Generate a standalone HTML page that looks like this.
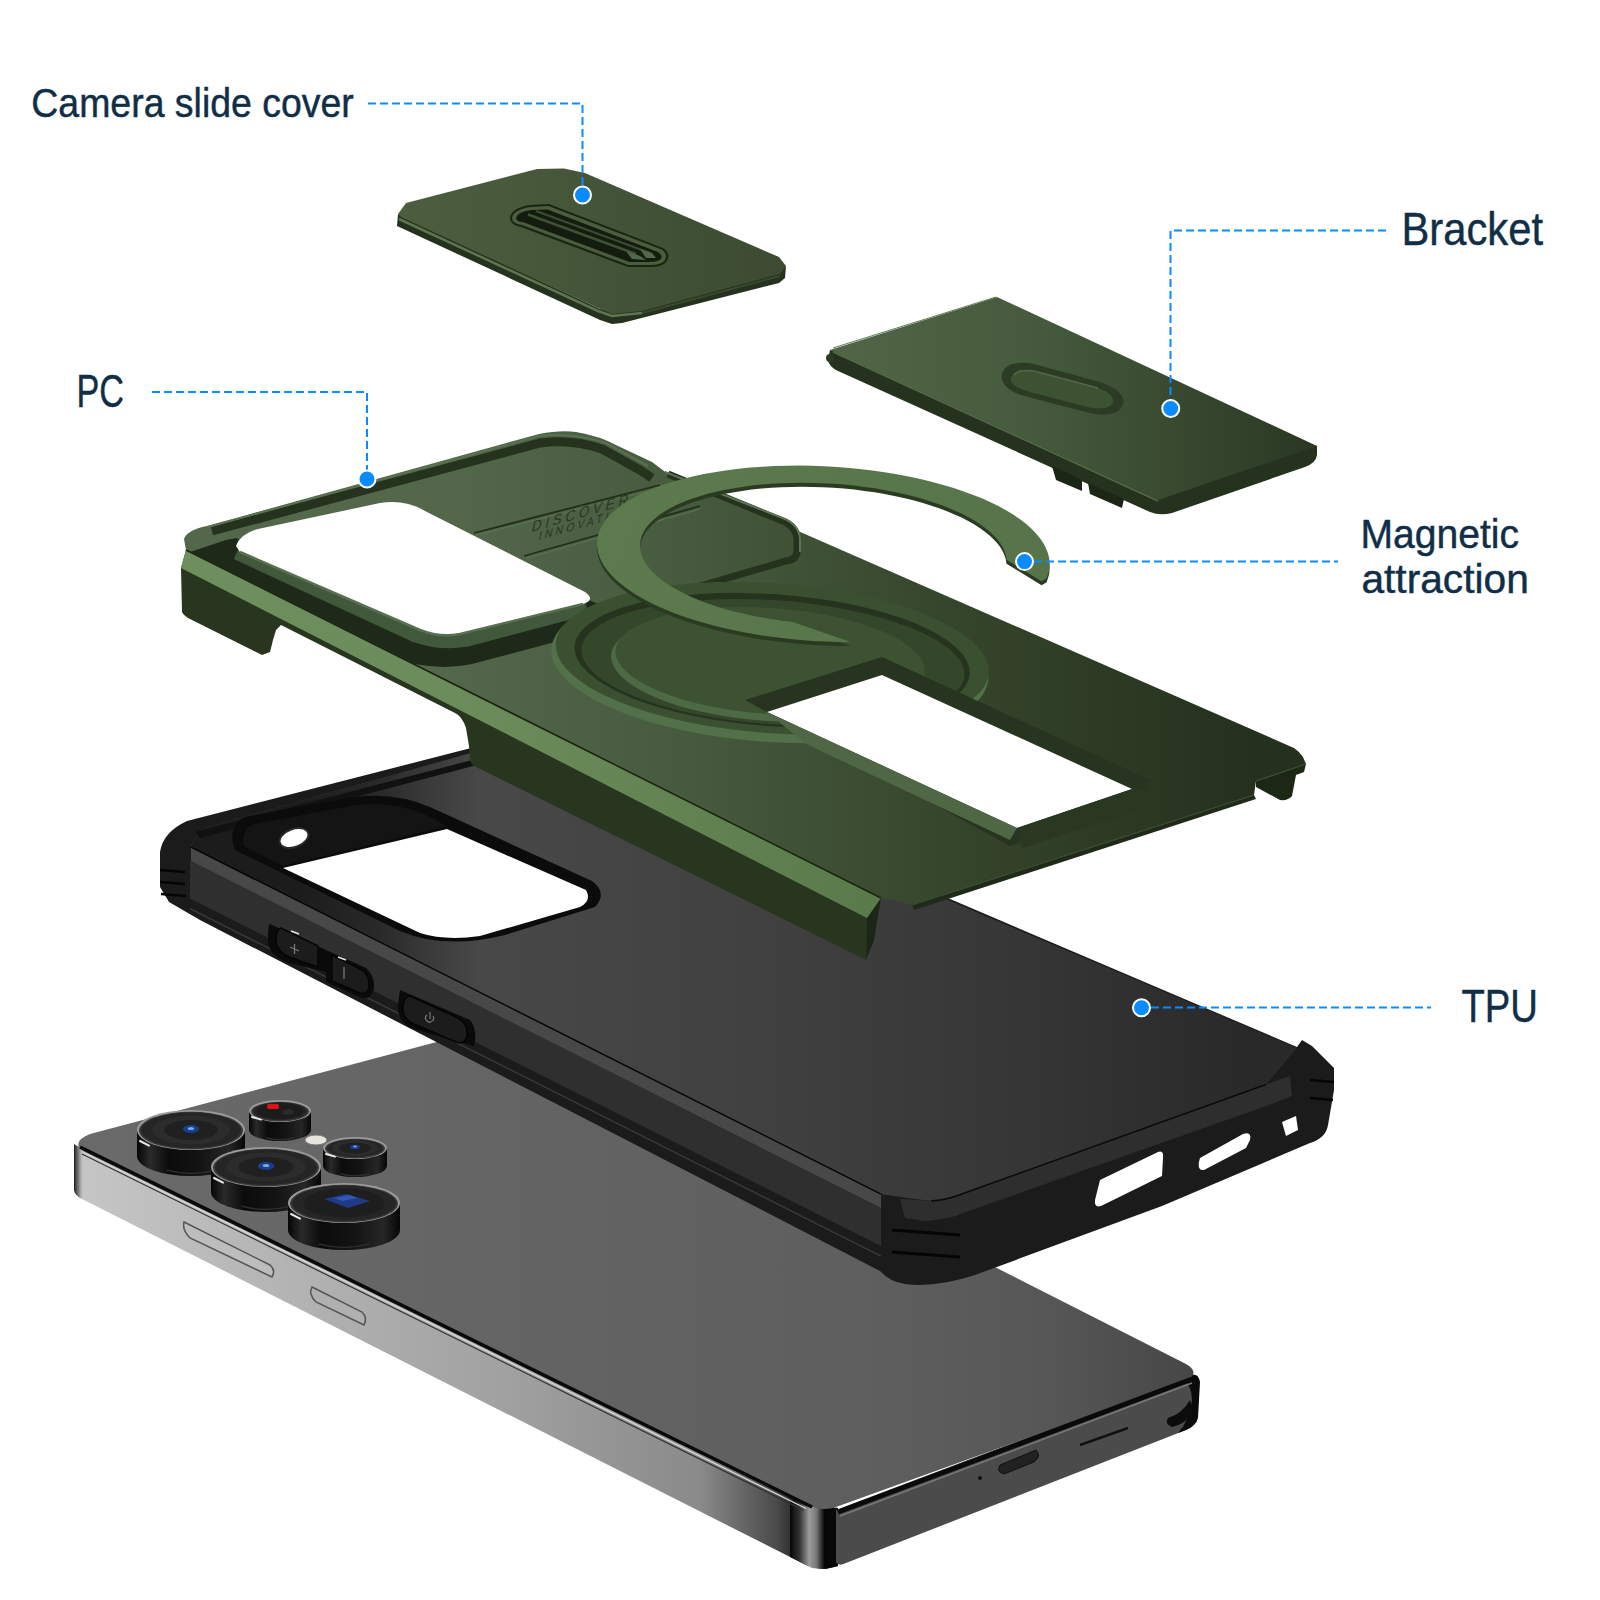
<!DOCTYPE html>
<html><head><meta charset="utf-8">
<style>
html,body{margin:0;padding:0;background:#fff;width:1600px;height:1600px;overflow:hidden}
svg{display:block}
text{font-family:"Liberation Sans",sans-serif;fill:#112e47}
</style></head>
<body>
<svg width="1600" height="1600" viewBox="0 0 1600 1600">
<defs>
 <linearGradient id="phTop" x1="80" y1="0" x2="1200" y2="0" gradientUnits="userSpaceOnUse">
  <stop offset="0" stop-color="#6a6a6a"/><stop offset="0.38" stop-color="#646464"/><stop offset="0.72" stop-color="#5e5e5e"/><stop offset="0.86" stop-color="#575757"/><stop offset="1" stop-color="#464646"/>
 </linearGradient>
 <linearGradient id="phFrame" x1="75" y1="0" x2="838" y2="0" gradientUnits="userSpaceOnUse">
  <stop offset="0" stop-color="#c6c6c6"/><stop offset="0.3" stop-color="#b2b2b2"/><stop offset="0.55" stop-color="#a2a2a2"/><stop offset="0.82" stop-color="#8a8a8a"/><stop offset="0.92" stop-color="#4a4a4a"/><stop offset="0.96" stop-color="#111"/><stop offset="1" stop-color="#111"/>
 </linearGradient>
 <linearGradient id="phCorner" x1="790" y1="0" x2="838" y2="0" gradientUnits="userSpaceOnUse">
  <stop offset="0" stop-color="#050505"/><stop offset="0.2" stop-color="#333"/><stop offset="0.4" stop-color="#9c9c9c"/><stop offset="0.55" stop-color="#777"/><stop offset="0.72" stop-color="#050505"/><stop offset="1" stop-color="#0a0a0a"/>
 </linearGradient>
 <linearGradient id="phShort" x1="822" y1="0" x2="1197" y2="0" gradientUnits="userSpaceOnUse">
  <stop offset="0" stop-color="#1c1c1c"/><stop offset="0.3" stop-color="#3a3a3a"/><stop offset="1" stop-color="#2a2a2a"/>
 </linearGradient>
 <linearGradient id="pcTop" x1="450" y1="0" x2="1250" y2="0" gradientUnits="userSpaceOnUse">
  <stop offset="0" stop-color="#53684a"/><stop offset="0.3" stop-color="#465a3d"/><stop offset="0.7" stop-color="#324128"/><stop offset="1" stop-color="#25311e"/>
 </linearGradient>
 <linearGradient id="pcStrip" x1="180" y1="0" x2="880" y2="0" gradientUnits="userSpaceOnUse">
  <stop offset="0" stop-color="#6f8e5e"/><stop offset="0.4" stop-color="#6d8c5b"/><stop offset="1" stop-color="#5b7a4b"/>
 </linearGradient>
 <linearGradient id="ringG" x1="595" y1="465" x2="1050" y2="640" gradientUnits="userSpaceOnUse">
  <stop offset="0" stop-color="#5d7b4e"/><stop offset="1" stop-color="#56734a"/>
 </linearGradient>
 <linearGradient id="slideTop" x1="420" y1="0" x2="780" y2="0" gradientUnits="userSpaceOnUse">
  <stop offset="0" stop-color="#4c5d3f"/><stop offset="1" stop-color="#3c4b31"/>
 </linearGradient>
 <linearGradient id="brTop" x1="850" y1="0" x2="1300" y2="0" gradientUnits="userSpaceOnUse">
  <stop offset="0" stop-color="#4f6546"/><stop offset="0.4" stop-color="#465b3d"/><stop offset="1" stop-color="#2c3a25"/>
 </linearGradient>
 <linearGradient id="lensCyl" x1="0" y1="0" x2="1" y2="0">
  <stop offset="0" stop-color="#050505"/><stop offset="0.12" stop-color="#2a2a2a"/><stop offset="0.3" stop-color="#0b0b0b"/><stop offset="0.6" stop-color="#141414"/><stop offset="0.85" stop-color="#262626"/><stop offset="1" stop-color="#060606"/>
 </linearGradient>
 <linearGradient id="phLeftEnd" x1="74" y1="0" x2="84" y2="0" gradientUnits="userSpaceOnUse">
  <stop offset="0" stop-color="#1a1a1a"/><stop offset="0.5" stop-color="#555" stop-opacity="0.6"/><stop offset="1" stop-color="#c6c6c6" stop-opacity="0"/>
 </linearGradient>
 <linearGradient id="tpuDark" x1="300" y1="0" x2="480" y2="0" gradientUnits="userSpaceOnUse">
  <stop offset="0" stop-color="#1c1c1c" stop-opacity="1"/><stop offset="0.45" stop-color="#222" stop-opacity="0.8"/><stop offset="1" stop-color="#2a2a2a" stop-opacity="0"/>
 </linearGradient>
 <linearGradient id="tpuTop" x1="480" y1="0" x2="1250" y2="0" gradientUnits="userSpaceOnUse">
  <stop offset="0" stop-color="#484848"/><stop offset="0.35" stop-color="#414141"/><stop offset="0.7" stop-color="#363636"/><stop offset="1" stop-color="#292929"/>
 </linearGradient>
</defs>

<!-- ================= PHONE ================= -->
<g id="phone">
 <!-- long side frame (silver) -->
 <path d="M74,1146 L74,1190 Q76,1197 84,1200 L800,1562 Q812,1569 826,1569 L838,1566 L838,1510 L79,1146 Z" fill="url(#phFrame)"/>
 <path d="M790,1500 L838,1508 L838,1566 Q826,1570 812,1568 L790,1557 Z" fill="url(#phCorner)"/>
 <path d="M74,1144 L74,1190 Q75,1196 82,1199 L84,1200 L84,1150 Z" fill="url(#phLeftEnd)"/>
 <!-- short side (black) -->
 <path d="M836,1510 L1190,1376 Q1198,1372 1199,1382 L1197,1418 Q1195,1426 1186,1430 L846,1563 Q838,1567 836,1562 Z" fill="#4b4b4b"/>
 <path d="M1190,1376 Q1198,1372 1200,1382 L1198,1418 Q1196,1426 1186,1430 L1178,1433 Q1190,1420 1192,1400 Q1192,1388 1185,1380 Z" fill="#0a0a0a"/>
 <path d="M1168,1418 Q1182,1414 1190,1400 L1193,1412 Q1186,1424 1172,1427 Q1164,1424 1168,1418 Z" fill="#0c0c0c"/>
 <!-- top face -->
 <path d="M90,1134 L512,1022 L1186,1364 Q1200,1372 1188,1380 L836,1507 Q822,1512 808,1505 L84,1152 Q70,1142 90,1134 Z" fill="url(#phTop)"/>
 <!-- edge line -->
 <path d="M80,1147 L812,1507" stroke="#0a0a0a" stroke-width="3.5" fill="none"/>
 <path d="M82,1151.5 L806,1508.5" stroke="#d8d8d8" stroke-width="1.3" fill="none"/>
 <path d="M82,1154 L804,1510.5" stroke="#333" stroke-width="1.2" fill="none"/>
 <path d="M838,1512 L1192,1379" stroke="#0a0a0a" stroke-width="5" fill="none"/>
 <path d="M840,1516 L1192,1383" stroke="#7a7a7a" stroke-width="1.5" fill="none"/>
 <!-- buttons -->
 <path d="M184,1222 L270,1265 Q276,1270 272,1277 L190,1238 Q182,1230 184,1222 Z" fill="#bdbdbd" stroke="#555" stroke-width="1.5"/>
 <path d="M312,1287 L362,1312 Q368,1318 364,1325 L316,1302 Q308,1294 312,1287 Z" fill="#b0b0b0" stroke="#555" stroke-width="1.5"/>
 <!-- ports -->
 <path d="M1000,1465 L1036,1450 Q1042,1456 1034,1462 L1004,1474 Q996,1472 1000,1465 Z" fill="#222" stroke="#111"/>
 <path d="M1080,1445 L1128,1428" stroke="#111" stroke-width="2.5"/>
 <circle cx="980" cy="1478" r="2" fill="#111"/>
 <!-- cameras -->
 <g id="cams">
  <path d="M137,1130 L137,1156 A54,20 0 0 0 245,1156 L245,1130 Z" fill="url(#lensCyl)"/>
  <ellipse cx="191" cy="1130" rx="54" ry="20" fill="#9a9a9a"/>
  <ellipse cx="191" cy="1130.6" rx="52" ry="18.8" fill="#3a3a3a"/>
  <ellipse cx="191" cy="1130.3" rx="50" ry="17.8" fill="#252525"/>
  <ellipse cx="191" cy="1130" rx="38.9" ry="14.4" fill="#2c2c2c"/>
  <ellipse cx="191" cy="1130" rx="27.0" ry="10.0" fill="#202020"/>
  <ellipse cx="191" cy="1129" rx="8.1" ry="4.0" fill="#1a3f8a"/>
  <ellipse cx="191" cy="1128.5" rx="3.2" ry="1.6" fill="#7aa6f0"/>
  <path d="M140,1141.0 L149,1145.6" stroke="#e8e8e8" stroke-width="2" stroke-linecap="round"/>
  <path d="M166.7,1170.0 Q191,1177.0 215.3,1170.0" stroke="#2c2c2c" stroke-width="1.5" fill="none"/>
  <path d="M249,1111 L249,1130 A31,11 0 0 0 311,1130 L311,1111 Z" fill="url(#lensCyl)"/>
  <ellipse cx="280" cy="1111" rx="31" ry="11" fill="#9a9a9a"/>
  <ellipse cx="280" cy="1111.6" rx="29" ry="9.8" fill="#3a3a3a"/>
  <ellipse cx="280" cy="1111.3" rx="27" ry="8.8" fill="#252525"/>
  <ellipse cx="280" cy="1111" rx="23.2" ry="8.2" fill="#1c1c1c"/>
  <rect x="267" y="1104" width="12" height="5" rx="2" fill="#e31010"/>
  <ellipse cx="288" cy="1112" rx="6" ry="3" fill="#2a2a2a"/>
  <path d="M252,1117.0 L261,1119.6" stroke="#e8e8e8" stroke-width="2" stroke-linecap="round"/>
  <path d="M266.1,1137.7 Q280,1142.0 293.9,1137.7" stroke="#2c2c2c" stroke-width="1.5" fill="none"/>
  <ellipse cx="316" cy="1140" rx="11" ry="5" fill="#e6e4dc" stroke="#777" stroke-width="1"/>
  <path d="M323,1148 L323,1166 A32,11 0 0 0 387,1166 L387,1148 Z" fill="url(#lensCyl)"/>
  <ellipse cx="355" cy="1148" rx="32" ry="11" fill="#9a9a9a"/>
  <ellipse cx="355" cy="1148.6" rx="30" ry="9.8" fill="#3a3a3a"/>
  <ellipse cx="355" cy="1148.3" rx="28" ry="8.8" fill="#252525"/>
  <ellipse cx="355" cy="1148" rx="23.0" ry="7.9" fill="#2c2c2c"/>
  <ellipse cx="355" cy="1148" rx="16.0" ry="5.5" fill="#202020"/>
  <ellipse cx="355" cy="1147" rx="4.8" ry="2.2" fill="#1a3f8a"/>
  <ellipse cx="355" cy="1146.5" rx="1.9" ry="0.9" fill="#7aa6f0"/>
  <path d="M326,1154.0 L335,1156.6" stroke="#e8e8e8" stroke-width="2" stroke-linecap="round"/>
  <path d="M340.6,1173.7 Q355,1178.0 369.4,1173.7" stroke="#2c2c2c" stroke-width="1.5" fill="none"/>
  <path d="M211,1167 L211,1192 A55,20 0 0 0 321,1192 L321,1167 Z" fill="url(#lensCyl)"/>
  <ellipse cx="266" cy="1167" rx="55" ry="20" fill="#9a9a9a"/>
  <ellipse cx="266" cy="1167.6" rx="53" ry="18.8" fill="#3a3a3a"/>
  <ellipse cx="266" cy="1167.3" rx="51" ry="17.8" fill="#252525"/>
  <ellipse cx="266" cy="1167" rx="39.6" ry="14.4" fill="#2c2c2c"/>
  <ellipse cx="266" cy="1167" rx="27.5" ry="10.0" fill="#202020"/>
  <ellipse cx="266" cy="1166" rx="8.2" ry="4.0" fill="#1a3f8a"/>
  <ellipse cx="266" cy="1165.5" rx="3.3" ry="1.6" fill="#7aa6f0"/>
  <path d="M214,1178.0 L223,1182.6" stroke="#e8e8e8" stroke-width="2" stroke-linecap="round"/>
  <path d="M241.2,1206.0 Q266,1213.0 290.8,1206.0" stroke="#2c2c2c" stroke-width="1.5" fill="none"/>
  <path d="M288,1203 L288,1230 A56,20 0 0 0 400,1230 L400,1203 Z" fill="url(#lensCyl)"/>
  <ellipse cx="344" cy="1203" rx="56" ry="20" fill="#9a9a9a"/>
  <ellipse cx="344" cy="1203.6" rx="54" ry="18.8" fill="#3a3a3a"/>
  <ellipse cx="344" cy="1203.3" rx="52" ry="17.8" fill="#252525"/>
  <ellipse cx="344" cy="1203" rx="40.3" ry="14.4" fill="#1e1e1e"/>
  <path d="M324,1199 L346,1194 L370,1201 L348,1208 Z" fill="#1f3a86"/>
  <path d="M334,1198 L350,1195 L358,1198 L342,1201 Z" fill="#3a5cc0" opacity="0.8"/>
  <path d="M291,1214.0 L300,1218.6" stroke="#e8e8e8" stroke-width="2" stroke-linecap="round"/>
  <path d="M318.8,1244.0 Q344,1251.0 369.2,1244.0" stroke="#2c2c2c" stroke-width="1.5" fill="none"/>
 </g>
</g>

<!-- ================= TPU ================= -->
<g id="tpu">
 <path d="M160,852 Q163,832 187,821 L549,728 L1297,1047 L1302,1040 L1312,1046 L1334,1068 L1334,1090 L1328,1125 Q1326,1138 1310,1143 L1162,1206 L975,1275 Q935,1288 905,1284 Q890,1282 880,1271 L200,920 L169,902 L160,887 Z" fill="#1b1b1b"/>
 <!-- long side face -->
 <path d="M190,860.6 L881,1208.1 L881,1246.1 L190,898.6 Z" fill="#2f2f2f"/>
 <path d="M190,908.6 L881,1256.1" stroke="#3a3a3a" stroke-width="1.5"/>
 <!-- top face -->
 <path d="M191,847.1 Q196,830 212,826 L549,731 L1297,1048 L1266,1084.5 L966,1192.5 Q948,1200 931,1201 Q905,1198 881,1194.1 Z" fill="url(#tpuTop)"/>
 <path d="M191,847.1 Q196,830 212,826 L549,731 L1297,1048 L1266,1084.5 L966,1192.5 Q948,1200 931,1201 Q905,1198 881,1194.1 Z" fill="url(#tpuDark)"/>
 <!-- top lip band long side -->
 <path d="M191,847.1 L881,1194.1 L881,1208.1 L191,861.1 Z" fill="#484848"/>
 <path d="M191,847.1 L881,1194.1" stroke="#050505" stroke-width="1.5"/>
 <!-- top lip band short side -->
 <path d="M931,1201 Q948,1200 966,1192.5 L1266,1084.5 L1290,1076 L1292,1096 L1272,1104 L966,1212 Q948,1220 925,1221 L905,1218 L900,1199 Z" fill="#2e2e2e"/>
 <path d="M931,1201 Q948,1200 966,1192.5 L1266,1084.5" stroke="#0a0a0a" stroke-width="1.5" fill="none"/>
 <!-- top edge inner rim (upper-left) -->
 <path d="M195,832 L549,740 L549,746 L200,838 Z" fill="#111"/>
 <!-- camera hole lip -->
 <path d="M235,850 Q226,828 245,817 L355,797 Q395,792 430,807 L592,881 Q608,893 595,907 L505,935 Q445,950 400,931 Z" fill="#0b0b0b"/>
 <path d="M244,846 Q240,830 254,824 L356,805 Q392,801 424,814 L447,826 L283,866 Z" fill="#141414"/>
 <path d="M283,868 L447,829 L586,890 Q592,901 580,907 L480,936 Q445,941 420,933 Z" fill="#fff"/>
 <ellipse cx="294" cy="838" rx="15" ry="9" fill="#fff" stroke="#2a2a2a" stroke-width="2" transform="rotate(-20 294 838)"/>
 <!-- corner bumper ridges -->
 <path d="M160,870 L185,872 M160,882 L185,884 M161,894 L186,896" stroke="#050505" stroke-width="2.5"/>
 <path d="M892,1230 L960,1235 M892,1252 L960,1257" stroke="#050505" stroke-width="3"/>
 <path d="M1310,1080 L1334,1082 M1310,1098 L1333,1100" stroke="#050505" stroke-width="2.5"/>
 <!-- buttons -->
 <path d="M270,924 L326,950 L326,972 L286,962 Q268,954 268,940 Q268,924 270,924 Z" fill="#0a0a0a"/>
 <path d="M281,928 L318,946 L318,967 L289,957 Q276,951 276,940 Q276,929 281,928 Z" fill="#1c1c1c" stroke="#050505" stroke-width="1.5"/>
 <path d="M290,947 L299,951 M294.5,944 L294.5,954" stroke="#777" stroke-width="1.3"/>
 <path d="M326,950 L366,968 Q375,976 374,988 Q372,1000 362,998 L326,982 Z" fill="#0a0a0a"/>
 <path d="M332,955 L362,970 Q370,976 369,986 Q368,995 360,993 L332,981 Z" fill="#1c1c1c" stroke="#050505" stroke-width="1.5"/>
 <path d="M344,967 L344,979" stroke="#777" stroke-width="1.3"/>
 <path d="M400,990 L470,1020 Q478,1030 474,1046 L410,1028 Q396,1018 398,1004 Z" fill="#0a0a0a"/>
 <path d="M410,996 L458,1018 Q468,1024 467,1034 Q466,1045 456,1042 L414,1024 Q402,1018 403,1007 Q404,996 410,996 Z" fill="#1c1c1c" stroke="#050505" stroke-width="1.5"/>
 <path d="M427,1015 A4,4 0 1 0 433,1016 M430,1012 L430,1019" stroke="#777" stroke-width="1.2" fill="none"/>
 <path d="M291,931 L299,934 M338,957 L346,960" stroke="#e0e0e0" stroke-width="1.8"/>
 <!-- short side holes -->
 <path d="M1100,1180 L1158,1152 Q1164,1150 1163,1158 L1162,1176 L1101,1206 Q1094,1208 1095,1200 Z" fill="#fff"/>
 <path d="M1200,1158 L1243,1134 Q1252,1131 1250,1140 L1246,1148 L1204,1170 Q1196,1171 1200,1158 Z" fill="#fff"/>
 <path d="M1282,1122 L1296,1116 L1298,1130 L1286,1136 Z" fill="#fff"/>
</g>

<!-- ================= PC (green) ================= -->
<g id="pc">
 <!-- side walls (dark) -->
 <path d="M181,568 L182,612 Q184,616 190,619 L262,655 L270,652 L273,640 L276,630 L281,625 L455,713 Q462,716 466,728 L469,746 L470,760 Q471,765 476,767 L866,960 L867,918 L881,898 L881,898 L186,550 Z" fill="#29361f"/>
 <path d="M867,918 L881,898 L874,940 L866,960 Z" fill="#1c2616"/>
 <!-- top face -->
 <path d="M186,550 L184,539 Q187,530 207,526 L539,434 Q560,430 576,432 Q600,436 618,446 L652,462 L668,474 L1294,748 Q1300,752 1303,757 L1306,764 L1256,781 L1254,795 L912,905 Q896,900 889,899 L881,898 Z" fill="url(#pcTop)"/>
 <!-- right tab darker -->
 <path d="M1256,781 L1306,764 L1304,772 L1296,775 L1292,796 Q1288,801 1280,800 L1256,787 Z" fill="#1d2716"/>
 <path d="M1254,795 L912,905 L914,910 L1256,799 Z" fill="#1f2a18"/>
 <path d="M1306,764 L1256,781 M1254,795 L912,905" stroke="#3b4b31" stroke-width="1.3" fill="none"/>
 <!-- strip (lit bevel) -->
 <path d="M186,550 L881,898 L867,918 L181,568 Z" fill="url(#pcStrip)"/>
 <path d="M186,550 L881,898" stroke="#1b2414" stroke-width="1.6" fill="none"/>
 <!-- camera island rim: outer lighter edge + dark inner channel -->
 <path d="M212,531 L540,443 Q572,439 602,449 L640,470 L652,478" stroke="#25321d" stroke-width="9" fill="none"/>
 <path d="M208,527 L539,436 Q572,432 606,443 L648,466" stroke="#5a7050" stroke-width="2" fill="none"/>
 <!-- rim right side (around DISCOVER plate) -->
 <path d="M668,474 L785,522 Q797,528 797,540 L797,552 Q796,560 786,561 L612,612" stroke="#25321d" stroke-width="7" fill="none"/>
 <path d="M665,472 L785,519 Q800,526 800,540 L800,552" stroke="#5c7452" stroke-width="2" fill="none"/>
 <!-- DISCOVER plate lines -->
 <path d="M474,533 L660,485 M524,556 L700,506" stroke="#222e1b" stroke-width="1.8" fill="none"/>
 <path d="M476,535.5 L660,488 M526,558.5 L700,509" stroke="#5d7453" stroke-width="1" fill="none"/>
 <g transform="translate(531,532) rotate(-16) skewX(-28)" font-family="Liberation Sans" stroke="none">
  <text x="0" y="0" font-size="14" textLength="100" style="fill:#2a3822">DISCOVER</text>
  <text x="10" y="10" font-size="11" textLength="95" style="fill:#2a3822">INNOVATION</text>
 </g>
 <!-- camera hole surround (dark lower-left wall) -->
 <path d="M226,540 L190,552 L415,664 Q445,670 472,664 L600,630 L604,606 L583,598 L465,628 L415,624 L236,538 Z" fill="#1f2919"/>
 <path d="M238,550 L415,632 Q440,641 465,637 L586,605" stroke="#41583a" stroke-width="20" fill="none" stroke-linejoin="round"/>
 <!-- camera hole -->
 <path d="M236,546 Q240,534 258,529 L380,503 Q405,499 425,511 L585,592 Q596,600 583,604 L460,634 Q440,638 420,630 L240,552 Z" fill="#fff"/>
 <path d="M240,552 L420,630 Q440,638 460,634 L583,604" stroke="#587050" stroke-width="2.5" fill="none"/>
 <!-- circle embossing -->
 <g transform="rotate(4 770 662)">
 <ellipse cx="770" cy="664" rx="219" ry="78" fill="#52704a"/>
 <ellipse cx="772" cy="658" rx="217" ry="75" fill="#3b5031"/>
 <ellipse cx="772" cy="660" rx="198" ry="66" fill="#26331e"/>
 <ellipse cx="773" cy="662" rx="192" ry="62" fill="#34472b"/>
 <ellipse cx="768" cy="666" rx="157" ry="55" fill="#4d6a44"/>
 <ellipse cx="770" cy="661" rx="155" ry="53" fill="#3c5233"/>
 </g>
 <!-- lower-right hole -->
 <path d="M745,700 L882,657 L1150,780 L1140,800 L1010,846 Z" fill="#27341f"/>
 <path d="M767,712 L882,675 L1132,789 L1017,828 Z" fill="#fff"/>
 <path d="M767,712 L1017,828 L1010,840 L806,744 Z" fill="#4f6745"/>
 <path d="M1017,828 L1132,789 L1150,790 L1145,808 L1022,848 Z" fill="#2a3822"/>
</g>

<!-- ================= Magnetic ring ================= -->
<g id="ring">
 <path d="M850.7,646.0 L838.2,645.9 L825.6,645.5 L813.1,644.9 L800.6,644.0 L788.2,642.8 L775.9,641.3 L763.7,639.7 L751.7,637.7 L739.9,635.5 L728.4,633.1 L717.2,630.4 L706.3,627.6 L695.7,624.5 L685.6,621.2 L675.8,617.7 L666.6,614.0 L657.8,610.2 L649.5,606.2 L641.7,602.0 L634.5,597.7 L627.9,593.3 L621.9,588.8 L616.5,584.2 L611.7,579.5 L607.6,574.7 L604.1,569.9 L601.3,565.0 L599.2,560.1 L597.8,555.3 L597.1,550.4 L597.0,545.5 L597.7,540.7 L599.0,536.0 L601.1,531.3 L603.8,526.7 L607.2,522.1 L611.2,517.7 L615.9,513.4 L621.3,509.3 L627.2,505.3 L633.8,501.4 L641.0,497.8 L648.7,494.3 L656.9,491.0 L665.6,487.9 L674.9,485.1 L684.6,482.4 L694.7,480.0 L705.2,477.8 L716.0,475.9 L727.2,474.2 L738.7,472.8 L750.5,471.6 L762.4,470.7 L774.6,470.1 L786.9,469.7 L799.3,469.6 L811.8,469.8 L824.4,470.2 L836.9,471.0 L849.4,471.9 L861.8,473.2 L874.1,474.7 L886.2,476.5 L898.1,478.5 L909.8,480.7 L921.3,483.2 L932.4,485.9 L943.2,488.9 L953.7,492.0 L963.7,495.4 L973.3,498.9 L982.5,502.6 L991.1,506.5 L999.3,510.6 L1006.9,514.8 L1013.9,519.1 L1020.4,523.5 L1026.3,528.1 L1031.5,532.7 L1036.1,537.4 L1040.0,542.2 L1043.3,547.0 L1045.9,551.9 L1047.8,556.8 L1049.1,561.7 L1049.6,566.5 L1049.5,571.4 L1048.6,576.2 L1046.6,582.2 L1041.6,585.2 L1006.5,563.8 L1005.9,559.8 L1004.7,555.7 L1002.9,551.7 L1000.5,547.6 L997.5,543.6 L994.0,539.7 L989.9,535.8 L985.2,532.0 L980.1,528.2 L974.4,524.6 L968.2,521.1 L961.6,517.6 L954.5,514.4 L947.0,511.2 L939.0,508.2 L930.7,505.4 L922.1,502.8 L913.1,500.3 L903.8,498.0 L894.3,495.9 L884.5,494.0 L874.6,492.3 L864.4,490.9 L854.2,489.6 L843.8,488.6 L833.4,487.8 L822.9,487.2 L812.4,486.9 L802.0,486.7 L791.6,486.9 L781.4,487.2 L771.3,487.8 L761.3,488.6 L751.6,489.6 L742.0,490.9 L732.8,492.4 L723.8,494.1 L715.2,496.0 L706.9,498.1 L699.0,500.4 L691.6,502.8 L684.5,505.5 L677.9,508.3 L671.7,511.3 L666.1,514.5 L661.0,517.8 L656.4,521.2 L652.3,524.7 L648.8,528.4 L645.9,532.1 L643.6,535.9 L641.8,539.8 L640.6,543.8 L640.1,547.8 L640.1,551.8 L640.7,555.9 L641.9,559.9 L643.8,564.0 L646.2,568.0 L649.1,572.0 L652.7,576.0 L656.8,579.9 L661.4,583.7 L666.6,587.4 L672.3,591.1 L678.5,594.6 L685.1,598.0 L692.2,601.3 L699.7,604.4 L707.7,607.4 L716.0,610.2 L724.6,612.9 L733.6,615.4 L742.9,617.6 L752.4,619.7 L762.2,621.6 L772.2,623.3 L782.3,624.8 L792.6,626.0 Z" fill="#2a3b22"/>
 <path d="M850.7,642.0 L838.2,641.9 L825.6,641.5 L813.1,640.9 L800.6,640.0 L788.2,638.8 L775.9,637.3 L763.7,635.7 L751.7,633.7 L739.9,631.5 L728.4,629.1 L717.2,626.4 L706.3,623.6 L695.7,620.5 L685.6,617.2 L675.8,613.7 L666.6,610.0 L657.8,606.2 L649.5,602.2 L641.7,598.0 L634.5,593.7 L627.9,589.3 L621.9,584.8 L616.5,580.2 L611.7,575.5 L607.6,570.7 L604.1,565.9 L601.3,561.0 L599.2,556.1 L597.8,551.3 L597.1,546.4 L597.0,541.5 L597.7,536.7 L599.0,532.0 L601.1,527.3 L603.8,522.7 L607.2,518.1 L611.2,513.7 L615.9,509.4 L621.3,505.3 L627.2,501.3 L633.8,497.4 L641.0,493.8 L648.7,490.3 L656.9,487.0 L665.6,483.9 L674.9,481.1 L684.6,478.4 L694.7,476.0 L705.2,473.8 L716.0,471.9 L727.2,470.2 L738.7,468.8 L750.5,467.6 L762.4,466.7 L774.6,466.1 L786.9,465.7 L799.3,465.6 L811.8,465.8 L824.4,466.2 L836.9,467.0 L849.4,467.9 L861.8,469.2 L874.1,470.7 L886.2,472.5 L898.1,474.5 L909.8,476.7 L921.3,479.2 L932.4,481.9 L943.2,484.9 L953.7,488.0 L963.7,491.4 L973.3,494.9 L982.5,498.6 L991.1,502.5 L999.3,506.6 L1006.9,510.8 L1013.9,515.1 L1020.4,519.5 L1026.3,524.1 L1031.5,528.7 L1036.1,533.4 L1040.0,538.2 L1043.3,543.0 L1045.9,547.9 L1047.8,552.8 L1049.1,557.7 L1049.6,562.5 L1049.5,567.4 L1048.6,572.2 L1046.6,578.2 L1041.6,581.2 L1006.5,559.8 L1005.9,555.8 L1004.7,551.7 L1002.9,547.7 L1000.5,543.6 L997.5,539.6 L994.0,535.7 L989.9,531.8 L985.2,528.0 L980.1,524.2 L974.4,520.6 L968.2,517.1 L961.6,513.6 L954.5,510.4 L947.0,507.2 L939.0,504.2 L930.7,501.4 L922.1,498.8 L913.1,496.3 L903.8,494.0 L894.3,491.9 L884.5,490.0 L874.6,488.3 L864.4,486.9 L854.2,485.6 L843.8,484.6 L833.4,483.8 L822.9,483.2 L812.4,482.9 L802.0,482.7 L791.6,482.9 L781.4,483.2 L771.3,483.8 L761.3,484.6 L751.6,485.6 L742.0,486.9 L732.8,488.4 L723.8,490.1 L715.2,492.0 L706.9,494.1 L699.0,496.4 L691.6,498.8 L684.5,501.5 L677.9,504.3 L671.7,507.3 L666.1,510.5 L661.0,513.8 L656.4,517.2 L652.3,520.7 L648.8,524.4 L645.9,528.1 L643.6,531.9 L641.8,535.8 L640.6,539.8 L640.1,543.8 L640.1,547.8 L640.7,551.9 L641.9,555.9 L643.8,560.0 L646.2,564.0 L649.1,568.0 L652.7,572.0 L656.8,575.9 L661.4,579.7 L666.6,583.4 L672.3,587.1 L678.5,590.6 L685.1,594.0 L692.2,597.3 L699.7,600.4 L707.7,603.4 L716.0,606.2 L724.6,608.9 L733.6,611.4 L742.9,613.6 L752.4,615.7 L762.2,617.6 L772.2,619.3 L782.3,620.8 L792.6,622.0 Z" fill="url(#ringG)"/>
</g>

<!-- ================= Camera slide cover ================= -->
<g id="slide">
 <!-- side -->
 <path d="M398,214 L397,226 L600,320 L612,324 L622,323 L779,283 L785,278 L786,266 L780,272 L620,312 L600,309 Z" fill="#25321d"/>
 <!-- top face -->
 <path d="M398,214 L406,203 L537,169 L564,168.5 L585,173 L779,257 L786,266 L780,274 L642,311 L612,314 L598,308 L401,217 Z" fill="url(#slideTop)"/>
 <!-- front bevel highlight -->
 <path d="M399,219 L598,311 L612,316 L642,313" stroke="#5f7552" stroke-width="2.5" fill="none"/>
 <path d="M642,313 L780,276" stroke="#3a4a30" stroke-width="2" fill="none"/>
 <!-- slot -->
 <path d="M510,218 Q511,208 530,205 L549,204 L663,248 Q671,253 667,261 Q663,267 650,267 L628,267 L521,227 Q510,225 510,218 Z" fill="#1a2414"/>
 <path d="M512,218 Q513,210 530,207 L548.5,206 L661.5,249.5 Q668,253.5 665,260 Q662,265 650,265 L628.5,265 L522,225 Q512,223.5 512,218 Z" fill="#4a5e3d"/>
 <path d="M516,218 Q517,212 531,210 L547.5,209.5 L658,252 Q663,255 661,259 Q658,262 649,262 L629.5,262 L524,222.5 Q516,221.5 516,218 Z" fill="#141c10"/>
 <path d="M528,214.5 L636,254" stroke="#3e5233" stroke-width="2.6" fill="none"/>
 <path d="M536,211 L650,253" stroke="#3a4d30" stroke-width="2" fill="none"/>
 <path d="M626,251 L640,256 L646,260 L632,259 Z M640,249 L652,253 L656,258 L646,258 Z" fill="#52684a"/>
</g>

<!-- ================= Bracket ================= -->
<g id="bracket">
 <path d="M830,350 L828,360 Q829,367 838,371 L1150,512 Q1160,516 1172,513 L1305,467 Q1316,463 1317,455 L1317,446 Z" fill="#25331e"/>
 <path d="M1052,466 L1082,480 L1082,491 L1056,480 Z M1088,483 L1124,499 L1122,508 L1090,494 Z" fill="#1c2616"/>
 <path d="M830,350 L997,297 L1317,446 L1158,500 Z" fill="url(#brTop)"/>
 <path d="M833,352 L1158,501" stroke="#55694a" stroke-width="1.5" fill="none"/>
 <path d="M833,348 L996,297" stroke="#6a8260" stroke-width="1.2" fill="none"/>
 <circle cx="830" cy="358" r="4" fill="#2c3b24"/>
 <!-- oval button -->
 <path d="M1002,373 Q1006,361 1030,363 L1100,382 Q1126,391 1123,404 Q1119,417 1094,414 L1024,396 Q999,388 1002,373 Z" fill="#2c3c24"/>
 <path d="M1011,378 Q1014,369 1034,371 L1098,388 Q1115,394 1113,403 Q1109,410 1092,408 L1030,392 Q1009,386 1011,378 Z" fill="#3d5232"/>
 <path d="M1014,375 Q1018,369 1034,371 L1098,388" stroke="#52684a" stroke-width="1.5" fill="none"/>
</g>

<!-- ================= Labels ================= -->
<g id="labels" stroke="#0a8cff" stroke-width="2" stroke-dasharray="8 4" fill="none">
 <path d="M368,103.5 L582.5,103.5 L582.5,186"/>
 <path d="M152,392 L367,392 L367,471"/>
 <path d="M1386,230.5 L1170.5,230.5 L1170.5,400"/>
 <path d="M1034,561.5 L1338,561.5"/>
 <path d="M1151,1007.5 L1431,1007.5"/>
</g>
<g id="dots" fill="#0a8cff" stroke="#fff" stroke-width="2">
 <circle cx="582.5" cy="195" r="8.5"/>
 <circle cx="367" cy="479" r="8.5"/>
 <circle cx="1170.7" cy="408.5" r="8.5"/>
 <circle cx="1024.5" cy="561.6" r="8.5"/>
 <circle cx="1141.5" cy="1007.7" r="8.5"/>
</g>
<g id="text" stroke="#112e47" stroke-width="0.45" lengthAdjust="spacingAndGlyphs">
 <text x="31.3" y="117" font-size="41" textLength="322.5" lengthAdjust="spacingAndGlyphs">Camera slide cover</text>
 <text x="76.5" y="406.5" font-size="46" textLength="47.5" lengthAdjust="spacingAndGlyphs">PC</text>
 <text x="1401.5" y="244.5" font-size="46" textLength="141.5" lengthAdjust="spacingAndGlyphs">Bracket</text>
 <text x="1360.5" y="548.3" font-size="41" textLength="158.5" lengthAdjust="spacingAndGlyphs">Magnetic</text>
 <text x="1361.4" y="593.3" font-size="41" textLength="167.5" lengthAdjust="spacingAndGlyphs">attraction</text>
 <text x="1461.4" y="1022.3" font-size="46" textLength="76.5" lengthAdjust="spacingAndGlyphs">TPU</text>
</g>
</svg>
</body></html>
